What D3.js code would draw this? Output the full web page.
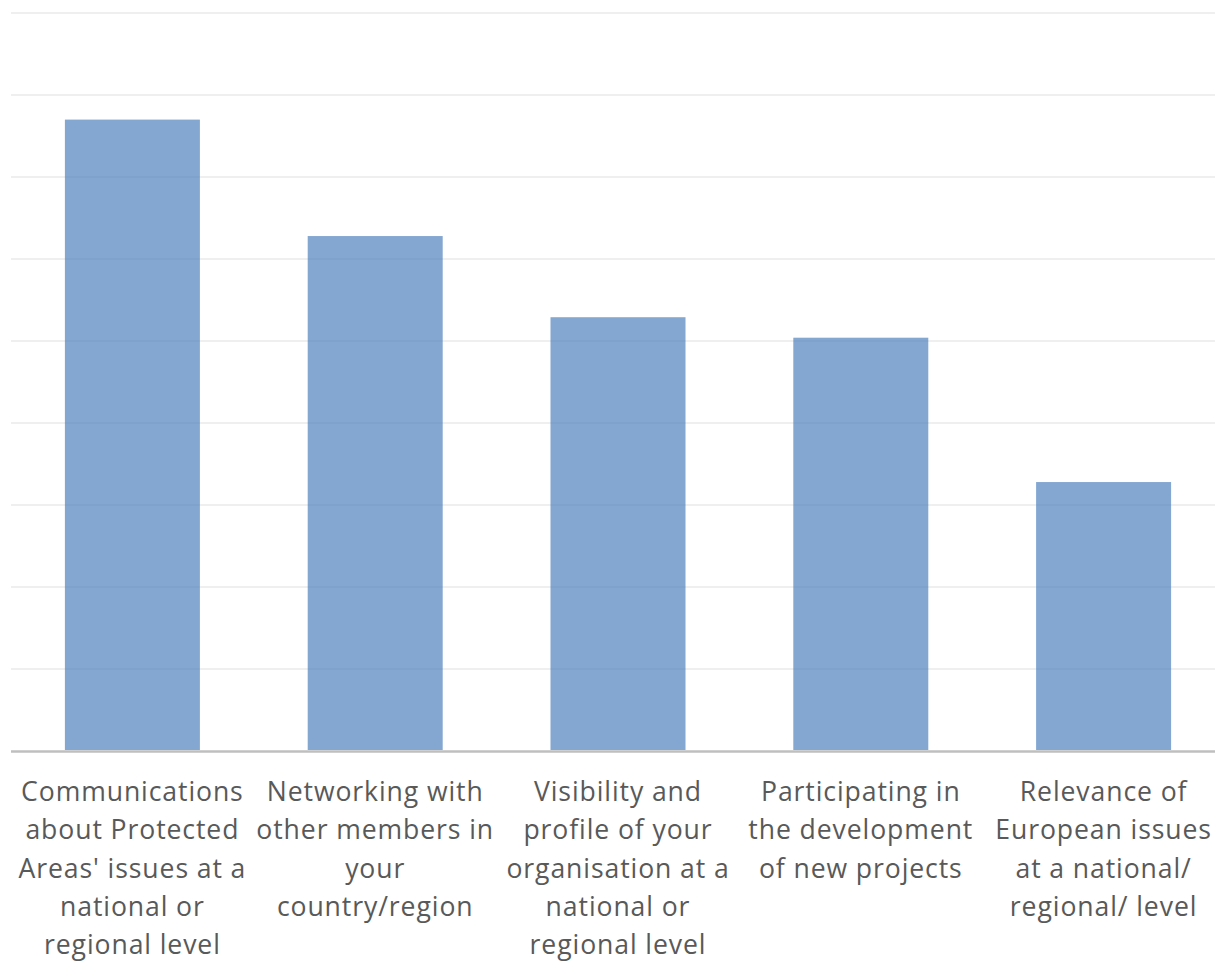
<!DOCTYPE html>
<html>
<head>
<meta charset="utf-8">
<script src="https://cdn.jsdelivr.net/npm/d3@7"></script>
<style>
  html, body { margin: 0; padding: 0; background: #ffffff; }
  svg { display: block; }
</style>
</head>
<body>
<svg id="chart" width="1215" height="963"></svg>
<script>
// ---- data ----
const categories = [
  "Communications\nabout Protected\nAreas' issues at a\nnational or\nregional level",
  "Networking with\nother members in\nyour\ncountry/region",
  "Visibility and\nprofile of your\norganisation at a\nnational or\nregional level",
  "Participating in\nthe development\nof new projects",
  "Relevance of\nEuropean issues\nat a national/\nregional/ level"
];
const values = [77, 62.8, 52.9, 50.4, 32.8];
const yTicks = [10, 20, 30, 40, 50, 60, 70, 80, 90];

// ---- layout ----
const svg = d3.select("#chart");
const x = d3.scaleBand()
  .domain(categories)
  .range([11, 1225])
  .paddingInner(0.444)
  .paddingOuter(0.222);
const y = d3.scaleLinear().domain([0, 90]).range([751, 13]);

// gridlines
svg.append("g").selectAll("line")
  .data(yTicks)
  .join("line")
  .attr("x1", 11).attr("x2", 1225)
  .attr("y1", d => y(d)).attr("y2", d => y(d))
  .attr("stroke", "#efefef")
  .attr("stroke-width", 1.8);

// bars
svg.append("g").selectAll("rect")
  .data(values)
  .join("rect")
  .attr("x", (d, i) => x(categories[i]))
  .attr("width", x.bandwidth())
  .attr("y", d => y(d))
  .attr("height", d => y(0) - y(d) - 1)
  .attr("fill", "#4f81bd")
  .attr("fill-opacity", 0.7);

// baseline
svg.append("line")
  .attr("x1", 11).attr("x2", 1225)
  .attr("y1", y(0) + 0.5).attr("y2", y(0) + 0.5)
  .attr("stroke", "#bfbfbf")
  .attr("stroke-width", 2.5);

// category labels
const labels = svg.append("g")
  .attr("font-family", "'Open Sans', sans-serif")
  .attr("font-size", 26.6)
  .attr("fill", "#595959")
  .attr("text-anchor", "middle")
  .style("letter-spacing", "0.9px");

labels.selectAll("text")
  .data(categories)
  .join("text")
  .attr("x", d => x(d) + x.bandwidth() / 2)
  .attr("y", 801)
  .each(function(d) {
    const t = d3.select(this);
    d.split("\n").forEach((line, k) => {
      t.append("tspan")
        .attr("x", x(d) + x.bandwidth() / 2)
        .attr("y", 801 + k * 38.3)
        .text(line);
    });
  });
</script>
</body>
</html>
